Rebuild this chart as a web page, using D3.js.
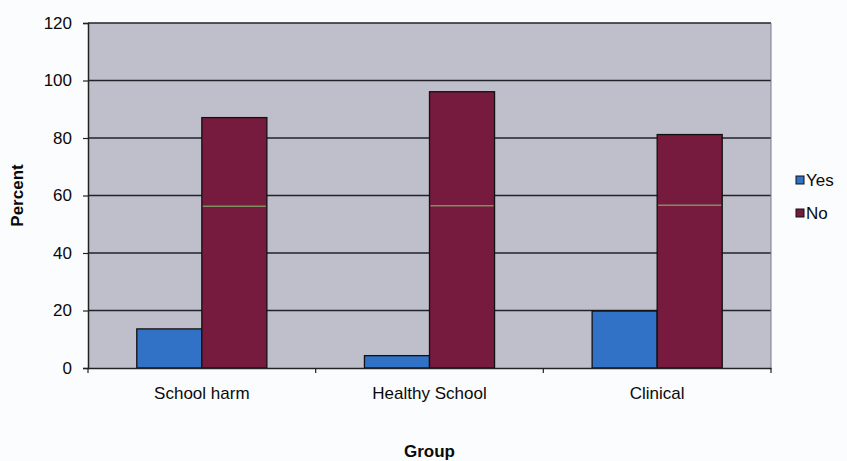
<!DOCTYPE html>
<html>
<head>
<meta charset="utf-8">
<script src="https://cdn.jsdelivr.net/npm/d3@7"></script>
<style>
  body { margin: 0; background: #fbfcfd; }
  svg { display: block; }
  text { font-family: "Liberation Sans", Arial, sans-serif; fill: #0a0a0a; }
</style>
</head>
<body>
<svg id="chart" width="847" height="461"></svg>
<script>
const categories = ["School harm", "Healthy School", "Clinical"];
const seriesNames = ["Yes", "No"];
const yesValues = [13.6, 4.3, 19.8];
const noValues = [87.1, 96.1, 81.2];
const markerValues = [56.3, 56.4, 56.6];
const yTicks = [0, 20, 40, 60, 80, 100, 120];
const colors = ["#3172c6", "#761b3d"];

const svg = d3.select("#chart");
const margin = { left: 88, right: 847 - 771, top: 23, bottom: 461 - 368 };
const W = 847, H = 461;
const plotW = W - margin.left - margin.right;
const plotH = H - margin.top - margin.bottom;

const x0 = d3.scaleBand().domain(categories).range([margin.left, margin.left + plotW]).paddingInner(0).paddingOuter(0);
const x1 = d3.scaleBand().domain(seriesNames).range([0, x0.bandwidth()]).paddingInner(0).paddingOuter(0.75);
const y = d3.scaleLinear().domain([0, 120]).range([margin.top + plotH, margin.top]);

// plot background
svg.append("rect")
  .attr("x", margin.left).attr("y", margin.top)
  .attr("width", plotW).attr("height", plotH)
  .attr("fill", "#bfbfcb");

// gridlines
svg.append("g").selectAll("line").data(yTicks.filter(d => d > 0)).join("line")
  .attr("x1", margin.left).attr("x2", margin.left + plotW)
  .attr("y1", d => y(d)).attr("y2", d => y(d))
  .attr("stroke", "#222228").attr("stroke-width", 1.3);

// right border
svg.append("line")
  .attr("x1", margin.left + plotW).attr("x2", margin.left + plotW)
  .attr("y1", margin.top).attr("y2", margin.top + plotH)
  .attr("stroke", "#7a7a84").attr("stroke-width", 1);

// bars
const data = categories.map((c, i) => ({ cat: c, vals: [yesValues[i], noValues[i]] }));
const groups = svg.append("g").selectAll("g").data(data).join("g")
  .attr("transform", d => `translate(${x0(d.cat)},0)`);
groups.selectAll("rect").data(d => d.vals.map((v, j) => ({ s: seriesNames[j], v, j }))).join("rect")
  .attr("x", d => x1(d.s)).attr("width", x1.bandwidth())
  .attr("y", d => y(d.v)).attr("height", d => y(0) - y(d.v))
  .attr("fill", d => colors[d.j])
  .attr("stroke", "#111").attr("stroke-width", 1.3);

// marker line inside "No" bars
groups.append("line")
  .attr("x1", (d) => x1("No") + 1).attr("x2", d => x1("No") + x1.bandwidth() - 1)
  .attr("y1", (d, i) => y(markerValues[i])).attr("y2", (d, i) => y(markerValues[i]))
  .attr("stroke", "#7d8f5e").attr("stroke-width", 1.5);

// y axis
const yAxis = d3.axisLeft(y).tickValues(yTicks).tickSize(5).tickPadding(11);
const gy = svg.append("g").attr("transform", `translate(${margin.left},0)`).call(yAxis);
gy.select(".domain").attr("stroke", "#222").attr("stroke-width", 1.5);
gy.selectAll(".tick line").attr("stroke", "#222").attr("stroke-width", 1.2);
gy.selectAll(".tick text").attr("font-size", 17).attr("font-family", "Liberation Sans, Arial, sans-serif").attr("fill", "#0a0a0a");

// x axis
const xAxis = d3.axisBottom(x0).tickSize(0).tickPadding(19);
const gx = svg.append("g").attr("transform", `translate(0,${y(0)})`).call(xAxis);
gx.select(".domain").attr("stroke", "#222").attr("stroke-width", 1.5);
gx.selectAll(".tick text").attr("font-size", 17).attr("font-family", "Liberation Sans, Arial, sans-serif").attr("fill", "#0a0a0a");
// category boundary ticks
const bounds = [margin.left].concat(categories.map(c => x0(c) + x0.bandwidth()));
svg.append("g").selectAll("line").data(bounds).join("line")
  .attr("x1", d => d).attr("x2", d => d)
  .attr("y1", y(0)).attr("y2", y(0) + 5)
  .attr("stroke", "#222").attr("stroke-width", 1.2);

// axis titles
svg.append("text")
  .attr("transform", `translate(23,${margin.top + plotH / 2}) rotate(-90)`)
  .attr("text-anchor", "middle").attr("font-size", 17).attr("font-weight", "bold")
  .text("Percent");
svg.append("text")
  .attr("x", margin.left + plotW / 2).attr("y", 457)
  .attr("text-anchor", "middle").attr("font-size", 17).attr("font-weight", "bold")
  .text("Group");

// legend
const legend = svg.append("g").attr("transform", "translate(796,174)");
const li = legend.selectAll("g").data(seriesNames).join("g")
  .attr("transform", (d, i) => `translate(0,${i * 33})`);
li.append("rect").attr("x", 0).attr("y", 2).attr("width", 8).attr("height", 8)
  .attr("fill", (d, i) => colors[i]).attr("stroke", "#111").attr("stroke-width", 1);
li.append("text").attr("x", 10).attr("y", 12).attr("font-size", 17).text(d => d);
</script>
</body>
</html>
